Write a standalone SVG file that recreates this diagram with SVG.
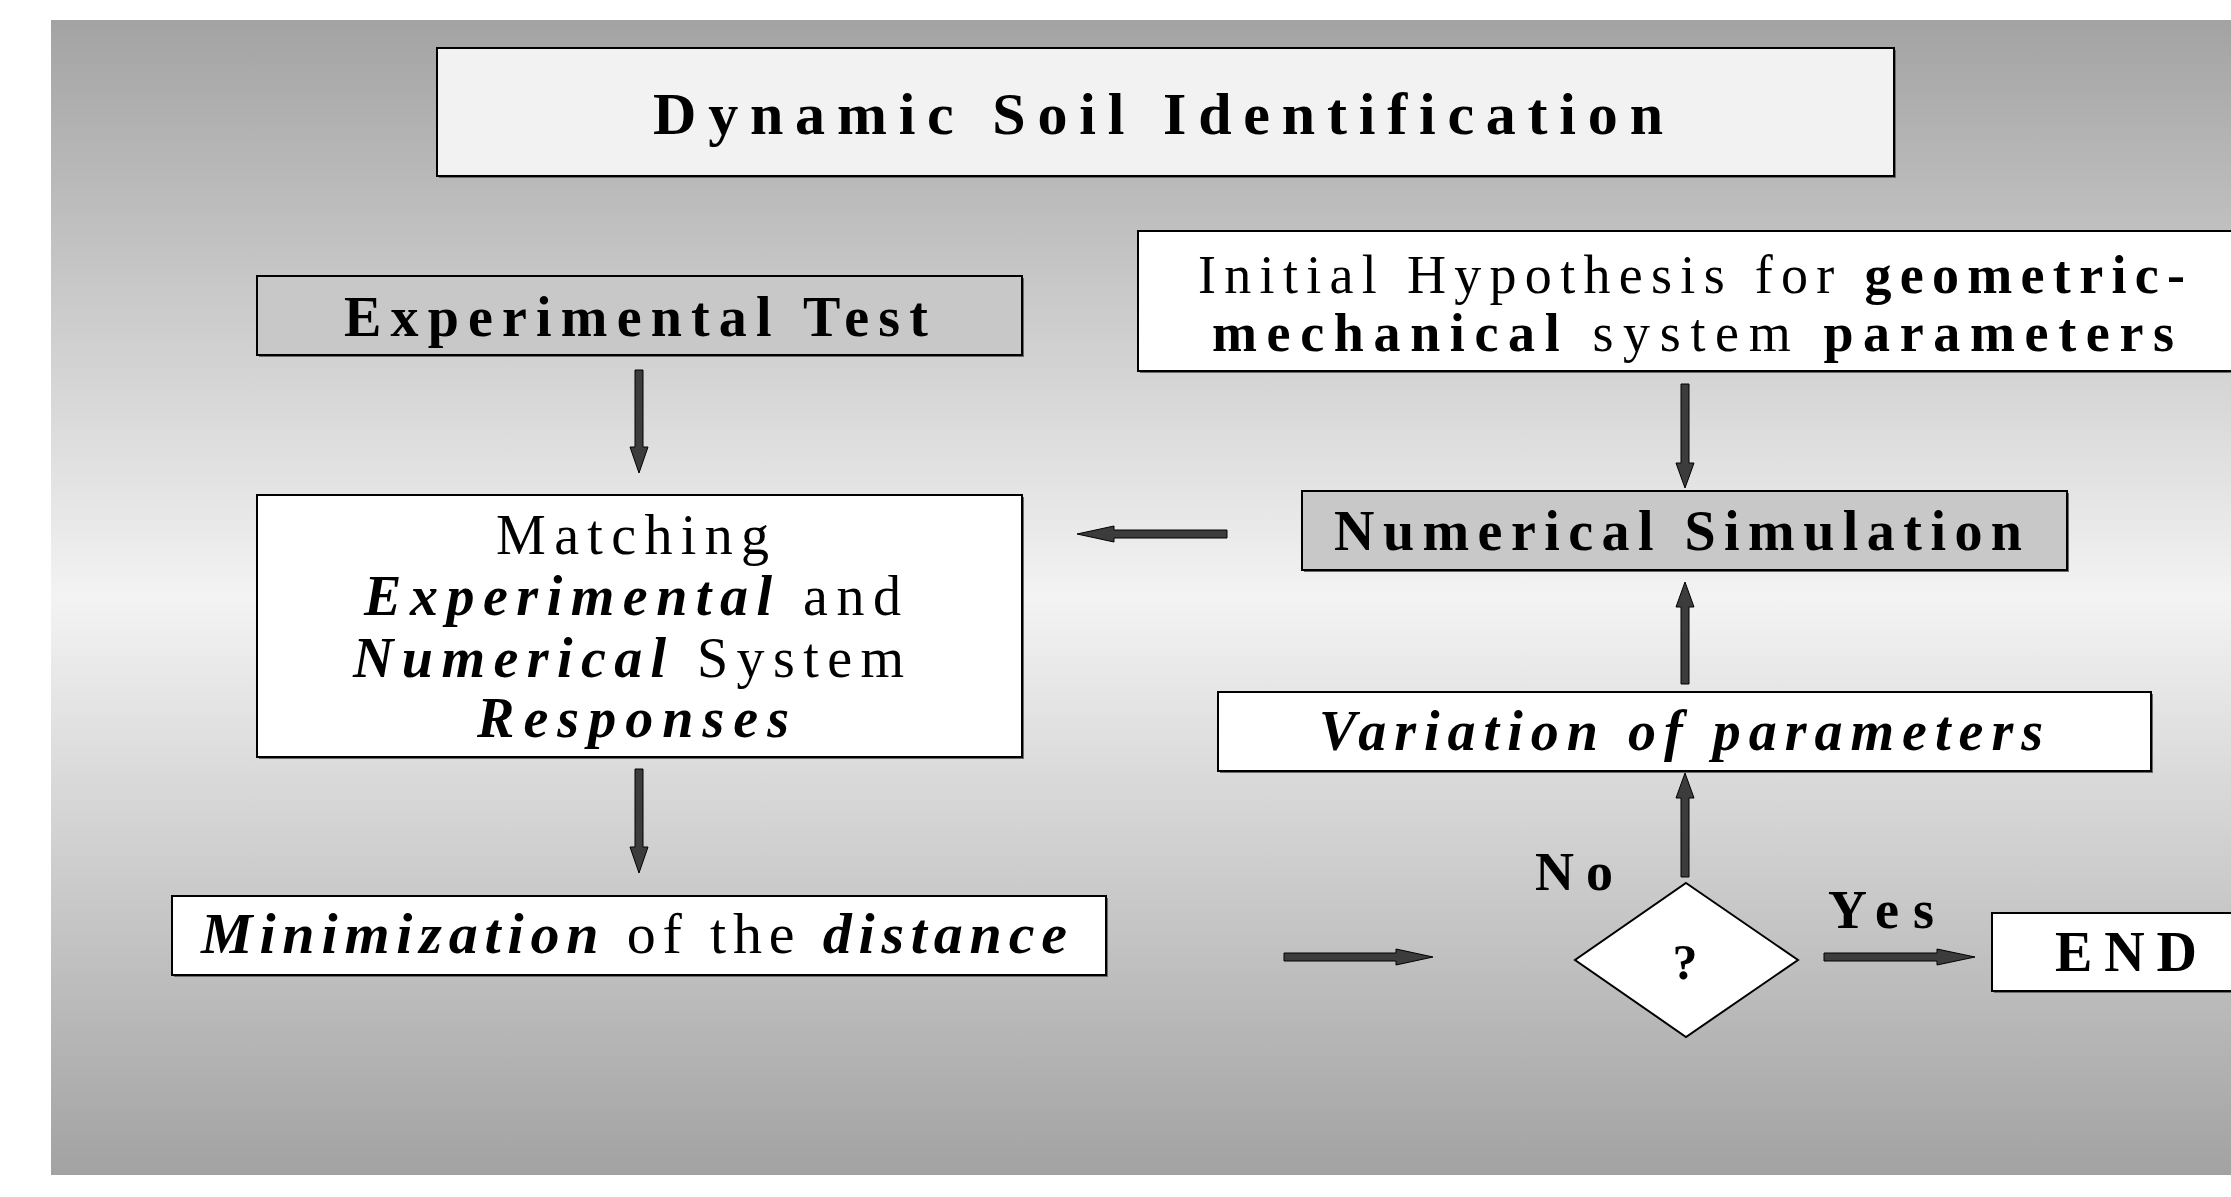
<svg xmlns="http://www.w3.org/2000/svg" width="2231" height="1197" viewBox="0 0 2231 1197">
  <defs>
    <linearGradient id="bg" x1="0" y1="0" x2="0" y2="1">
      <stop offset="0" stop-color="#a3a3a3"/>
      <stop offset="0.5" stop-color="#f3f3f3"/>
      <stop offset="1" stop-color="#a2a2a2"/>
    </linearGradient>
  </defs>
  <style>
    .box { stroke: #000; stroke-width: 2; }
    .shadow { fill: #6a6a6a; }
    .white { fill: #ffffff; }
    .gray { fill: #c8c8c8; }
    .light { fill: #f2f2f2; }
    .arr { fill: #3c3c3c; stroke: #000; stroke-width: 1; }
    text { font-family: "Liberation Serif", "Times New Roman", serif; fill: #000; }
    .b { font-weight: bold; }
    .bi { font-weight: bold; font-style: italic; }
    .r { font-weight: normal; font-style: normal; }
  </style>
  <rect x="0" y="0" width="2231" height="1197" fill="#ffffff"/>
  <rect id="background" x="51" y="20" width="2180" height="1155" fill="url(#bg)"/>

  <g id="connectors">
    <polygon class="arr" points="635,370 643,370 643,447 648,447 639,473 630,447 635,447"/>
    <polygon class="arr" points="635,769 643,769 643,847 648,847 639,873 630,847 635,847"/>
    <polygon class="arr" points="1681,384 1689,384 1689,463 1694,463 1685,488 1676,463 1681,463"/>
    <polygon class="arr" points="1681,684 1689,684 1689,607 1694,607 1685,582 1676,607 1681,607"/>
    <polygon class="arr" points="1681,877 1689,877 1689,798 1694,798 1685,773 1676,798 1681,798"/>
    <polygon class="arr" points="1227,530 1227,538 1114,538 1114,542 1077,534 1114,526 1114,530"/>
    <polygon class="arr" points="1284,953 1284,961 1396,961 1396,965 1433,957 1396,949 1396,953"/>
    <polygon class="arr" points="1824,953 1824,961 1937,961 1937,965 1975,957 1937,949 1937,953"/>
  </g>

  <g id="title">
    <rect class="shadow" x="439" y="50" width="1457" height="128"/>
    <rect class="box light" x="437" y="48" width="1457" height="128"/>
    <text class="b" x="653" y="134" font-size="60" textLength="1010" lengthAdjust="spacing">Dynamic Soil Identification</text>
  </g>

  <g id="experimental-test">
    <rect class="shadow" x="259" y="278" width="765" height="79"/>
    <rect class="box gray" x="257" y="276" width="765" height="79"/>
    <text class="b" x="344" y="336" font-size="56" textLength="584" lengthAdjust="spacing">Experimental Test</text>
  </g>

  <g id="initial-hypothesis">
    <rect class="shadow" x="1140" y="233" width="1150" height="140"/>
    <rect class="box white" x="1138" y="231" width="1150" height="140"/>
    <text x="1198" y="293" font-size="54" textLength="987" lengthAdjust="spacing"><tspan class="r">Initial Hypothesis for </tspan><tspan class="b">geometric-</tspan></text>
    <text x="1212" y="351" font-size="54" textLength="962" lengthAdjust="spacing"><tspan class="b">mechanical</tspan><tspan class="r"> system  </tspan><tspan class="b">parameters</tspan></text>
  </g>

  <g id="matching">
    <rect class="shadow" x="259" y="497" width="765" height="262"/>
    <rect class="box white" x="257" y="495" width="765" height="262"/>
    <text class="r" x="496" y="554" font-size="56" textLength="273" lengthAdjust="spacing">Matching</text>
    <text x="364" y="615" font-size="56" textLength="537" lengthAdjust="spacing"><tspan class="bi">Experimental</tspan><tspan class="r"> and</tspan></text>
    <text x="353" y="677" font-size="56" textLength="551" lengthAdjust="spacing"><tspan class="bi">Numerical</tspan><tspan class="r"> System</tspan></text>
    <text class="bi" x="477" y="737" font-size="56" textLength="312" lengthAdjust="spacing">Responses</text>
  </g>

  <g id="numerical-simulation">
    <rect class="shadow" x="1304" y="493" width="765" height="79"/>
    <rect class="box gray" x="1302" y="491" width="765" height="79"/>
    <text class="b" x="1334" y="550" font-size="56" textLength="688" lengthAdjust="spacing">Numerical Simulation</text>
  </g>

  <g id="variation">
    <rect class="shadow" x="1220" y="694" width="933" height="79"/>
    <rect class="box white" x="1218" y="692" width="933" height="79"/>
    <text class="bi" x="1319" y="750" font-size="56" textLength="724" lengthAdjust="spacing">Variation of parameters</text>
  </g>

  <g id="minimization">
    <rect class="shadow" x="174" y="898" width="934" height="79"/>
    <rect class="box white" x="172" y="896" width="934" height="79"/>
    <text x="201" y="953" font-size="58" textLength="866" lengthAdjust="spacing"><tspan class="bi">Minimization</tspan><tspan class="r"> of the </tspan><tspan class="bi">distance</tspan></text>
  </g>

  <g id="decision">
    <polygon points="1686,883 1798,960 1686,1037 1575,960" fill="#ffffff" stroke="#000" stroke-width="2"/>
    <text class="b" x="1685" y="979" font-size="50" text-anchor="middle">?</text>
  </g>

  <g id="labels">
    <text class="b" x="1535" y="890" font-size="54" textLength="78" lengthAdjust="spacing">No</text>
    <text class="b" x="1828" y="928" font-size="54" textLength="106" lengthAdjust="spacing">Yes</text>
  </g>

  <g id="end">
    <rect class="shadow" x="1994" y="915" width="300" height="78"/>
    <rect class="box white" x="1992" y="913" width="300" height="78"/>
    <text class="b" x="2055" y="971" font-size="56" textLength="142" lengthAdjust="spacing">END</text>
  </g>
</svg>
